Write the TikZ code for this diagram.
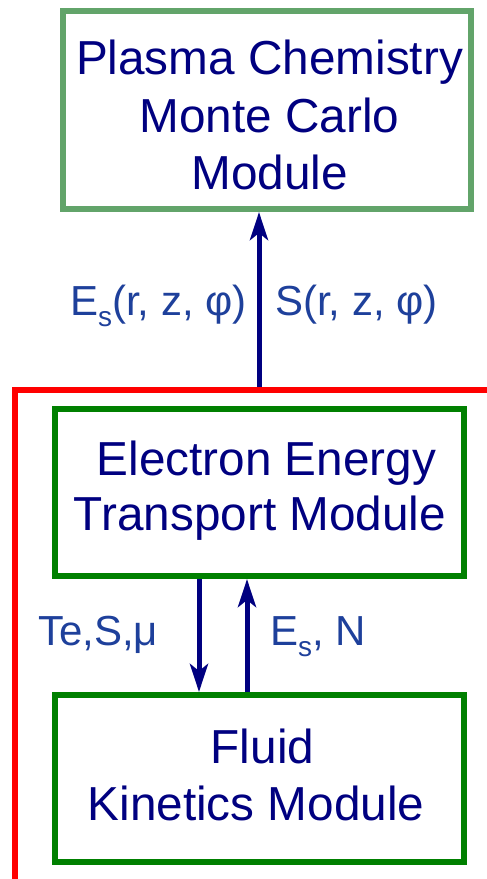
\documentclass[tikz,border=0pt]{standalone}
\usepackage{fontspec}
\setmainfont{Liberation Sans}
\usepackage{tikz}
\usetikzlibrary{arrows.meta, positioning}

\definecolor{mcgreen}{RGB}{98,164,106}
\definecolor{boxgreen}{RGB}{0,128,0}
\definecolor{navyblue}{RGB}{0,0,128}
\definecolor{lblblue}{RGB}{30,64,155}
\newcommand{\lowsub}[1]{\raisebox{-0.28em}{\fontsize{28}{28}\selectfont #1}}

\begin{document}
\begin{tikzpicture}[
    x=1pt, y=-1pt,
    module/.style={draw=boxgreen, line width=6pt, minimum width=409pt, minimum height=167pt, inner sep=0pt},
    modtext/.style={text=navyblue, align=center, inner sep=0pt},
    lbl/.style={text=lblblue, inner sep=0pt, font=\fontsize{42}{48}\selectfont},
    flow/.style={draw=navyblue, line width=5pt, -{Stealth[length=28pt, width=18pt, inset=7pt]}},
    rim/.style={draw=red, line width=6pt}
]
\useasboundingbox (0,0) rectangle (487,879);
% boxes
\node[module, draw=mcgreen, minimum width=408pt, minimum height=198pt] (chem) at (267,110) {};
\node[module] (eet) at (259.5,492.5) {};
\node[module] (fluid) at (259.5,778.5) {};
% box texts
\node[modtext, font=\fontsize{47.7}{57.5}\selectfont] (chemtxt) at (269.5,115.4) {Plasma Chemistry\\Monte Carlo\\Module};
\node[modtext, font=\fontsize{47.7}{55}\selectfont] (eettxt) at (260,490.5) {\hspace*{13pt}Electron Energy\\Transport Module};
\node[modtext, font=\fontsize{47.7}{57}\selectfont] (fluidtxt) at (256,774.5) {\hspace*{13pt}Fluid\\Kinetics Module};
% boundary of the coupled modules
\coordinate (rimR) at (487,390);
\coordinate (rimC) at (15,390);
\coordinate (rimB) at (15,879);
\draw[rim] (rimR) -- (rimC) -- (rimB);
% data exchange
\coordinate (feed) at (259,387);
\draw[flow] (feed) -- (feed |- chem.south);
\draw[flow] ([xshift=-60.5pt]eet.south) -- ([xshift=-60.5pt]fluid.north);
\draw[flow] ([xshift=-12.5pt]fluid.north) -- ([xshift=-12.5pt]eet.south);
% labels
\node[lbl, anchor=base east] (esrz) at (247,315) {E\lowsub{s}(r, z, φ)};
\node[lbl, anchor=base west] (srz) at (275,315) {S(r, z, φ)};
\node[lbl, anchor=base west] (tesmu) at (38,645) {Te,S,μ};
\node[lbl, anchor=base west] (esn) at (270,645) {E\lowsub{s}, N};
\end{tikzpicture}
\end{document}
